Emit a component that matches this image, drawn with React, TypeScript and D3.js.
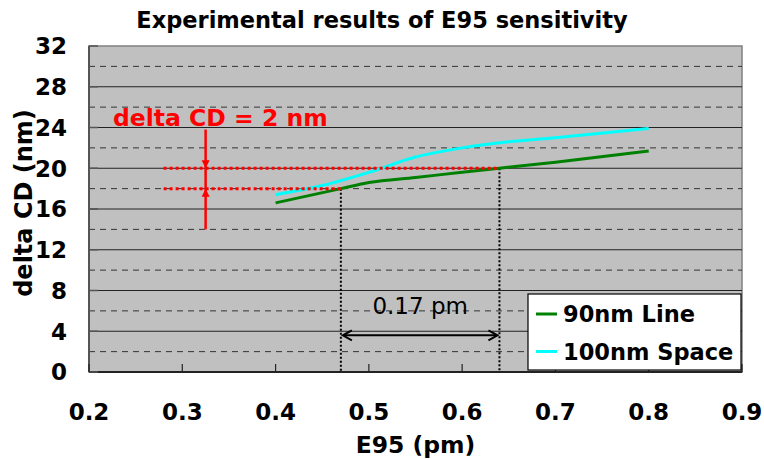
import React from "react";
import * as d3 from "d3";

const titleText = "Experimental results of E95 sensitivity";
const xTicks = [0.2, 0.3, 0.4, 0.5, 0.6, 0.7, 0.8, 0.9];
const yTicks = [0, 4, 8, 12, 16, 20, 24, 28, 32];
const yMinor = [2, 6, 10, 14, 18, 22, 26, 30];

const lineE95 = [0.4, 0.47, 0.5, 0.55, 0.6, 0.64, 0.7, 0.8];
const lineCD = [16.6, 18.0, 18.6, 19.1, 19.6, 20.0, 20.6, 21.7];
const spaceE95 = [0.4, 0.45, 0.5, 0.55, 0.6, 0.65, 0.7, 0.8];
const spaceCD = [17.4, 18.3, 19.6, 21.1, 22.0, 22.6, 23.0, 23.9];

const seriesNames = ["90nm Line", "100nm Space"];
const seriesColors = ["#008000", "#00ffff"];

// annotation values
const deltaLevels = [18, 20];
const deltaStartX = 0.28;
const deltaArrowX = 0.325;
const deltaEnds = [0.47, 0.64];
const deltaArrowSpan = [14, 23.8];
const deltaLabel = "delta CD = 2 nm";
const widthLabel = "0.17 pm";
const widthArrowY = 3.6;

export default function App() {
  const W = 764, H = 459;
  const left = 89, right = 742, top = 46, bottom = 372;
  const x = d3.scaleLinear().domain([0.2, 0.9]).range([left, right]);
  const y = d3.scaleLinear().domain([0, 32]).range([bottom, top]);
  const font = "'DejaVu Sans', Verdana, sans-serif";

  const mk = (xs: number[], ys: number[]) => xs.map((v, i) => [v, ys[i]] as [number, number]);
  const line = d3.line<[number, number]>().x(d => x(d[0])).y(d => y(d[1])).curve(d3.curveMonotoneX);
  const series = [mk(lineE95, lineCD), mk(spaceE95, spaceCD)];

  const ax = x(deltaArrowX);
  const yTop = y(deltaArrowSpan[1]);
  const yBot = y(deltaArrowSpan[0]);
  const y20 = y(deltaLevels[1]);
  const y18 = y(deltaLevels[0]);
  const wa = y(widthArrowY);
  const xa1 = x(deltaEnds[0]) + 2, xa2 = x(deltaEnds[1]) - 2;

  return (
    <svg width={W} height={H} style={{ position: "absolute", left: 0, top: 0 }} fontFamily={font}>
      <rect x={0} y={0} width={W} height={H} fill="#fff" />
      <text x={382} y={28} textAnchor="middle" fontSize={22.5} fontWeight="bold">{titleText}</text>
      <rect x={left} y={top} width={right - left} height={bottom - top} fill="#c0c0c0" stroke="#808080" strokeWidth={1.5} />
      {yMinor.map(v => (
        <line key={"m" + v} x1={left} x2={right} y1={y(v)} y2={y(v)} stroke="#333" strokeWidth={1} strokeDasharray="6,5" />
      ))}
      {yTicks.filter(v => v > 0 && v < 32).map(v => (
        <line key={"g" + v} x1={left} x2={right} y1={y(v)} y2={y(v)} stroke="#222" strokeWidth={1.2} />
      ))}
      {/* axes */}
      <line x1={left} x2={left} y1={top} y2={bottom} stroke="#555" strokeWidth={2} />
      <line x1={left} x2={right} y1={bottom} y2={bottom} stroke="#222" strokeWidth={2} />
      {yTicks.map(v => (
        <line key={"yt" + v} x1={left} x2={left + 9} y1={y(v)} y2={y(v)} stroke="#555" strokeWidth={1.5} />
      ))}
      {xTicks.map(v => (
        <line key={"xt" + v} x1={x(v)} x2={x(v)} y1={bottom} y2={bottom - 8} stroke="#222" strokeWidth={1.2} />
      ))}
      {yTicks.map(v => (
        <text key={"yl" + v} x={67} y={y(v)} dy="0.36em" textAnchor="end" fontSize={23} fontWeight="bold">{v}</text>
      ))}
      {xTicks.map(v => (
        <text key={"xl" + v} x={x(v)} y={420} textAnchor="middle" fontSize={23} fontWeight="bold">{v.toFixed(1)}</text>
      ))}
      <text x={(left + right) / 2} y={453} textAnchor="middle" fontSize={23.5} fontWeight="bold">E95 (pm)</text>
      <text transform={`translate(32,203) rotate(-90)`} textAnchor="middle" fontSize={24} fontWeight="bold">delta CD (nm)</text>

      {/* black dotted verticals */}
      <line x1={x(deltaEnds[0])} x2={x(deltaEnds[0])} y1={y18} y2={bottom} stroke="#000" strokeWidth={2} strokeDasharray="2,2" />
      <line x1={x(deltaEnds[1])} x2={x(deltaEnds[1])} y1={y20} y2={bottom} stroke="#000" strokeWidth={2} strokeDasharray="2,2" />

      {/* series */}
      {series.map((s, i) => (
        <path key={i} d={line(s) || ""} fill="none" stroke={seriesColors[i]} strokeWidth={3} />
      ))}

      {/* red dotted horizontals */}
      <line x1={x(deltaStartX)} x2={x(deltaEnds[1])} y1={y20} y2={y20} stroke="#ff0000" strokeWidth={3} strokeDasharray="3,3" />
      <line x1={x(deltaStartX)} x2={x(deltaEnds[0])} y1={y18} y2={y18} stroke="#ff0000" strokeWidth={3} strokeDasharray="3,3" />
      {/* red arrow */}
      <line x1={ax} x2={ax} y1={yTop} y2={yBot} stroke="#ff0000" strokeWidth={2.5} />
      <path d={`M${ax - 4},${y20 - 8} L${ax + 4},${y20 - 8} L${ax},${y20} Z`} fill="#ff0000" />
      <path d={`M${ax - 4},${y18 + 8} L${ax + 4},${y18 + 8} L${ax},${y18} Z`} fill="#ff0000" />
      <text x={113} y={126} fontSize={23.5} fontWeight="bold" fill="#ff0000">{deltaLabel}</text>

      {/* width arrow */}
      <line x1={xa1} x2={xa2} y1={wa} y2={wa} stroke="#000" strokeWidth={2} />
      <path d={`M${xa1 + 9},${wa - 5} L${xa1},${wa} L${xa1 + 9},${wa + 5}`} fill="none" stroke="#000" strokeWidth={2} />
      <path d={`M${xa2 - 9},${wa - 5} L${xa2},${wa} L${xa2 - 9},${wa + 5}`} fill="none" stroke="#000" strokeWidth={2} />
      <text x={(xa1 + xa2) / 2} y={314} textAnchor="middle" fontSize={23}>{widthLabel}</text>

      {/* legend */}
      <rect x={528} y={294} width={213} height={76} fill="#fff" stroke="#000" strokeWidth={1.2} />
      {seriesNames.map((n, i) => (
        <g key={n}>
          <line x1={536} x2={557} y1={314 + i * 37.5} y2={314 + i * 37.5} stroke={seriesColors[i]} strokeWidth={3} />
          <text x={563} y={314 + i * 37.5} dy="0.36em" fontSize={22.5} fontWeight="bold">{n}</text>
        </g>
      ))}
    </svg>
  );
}
